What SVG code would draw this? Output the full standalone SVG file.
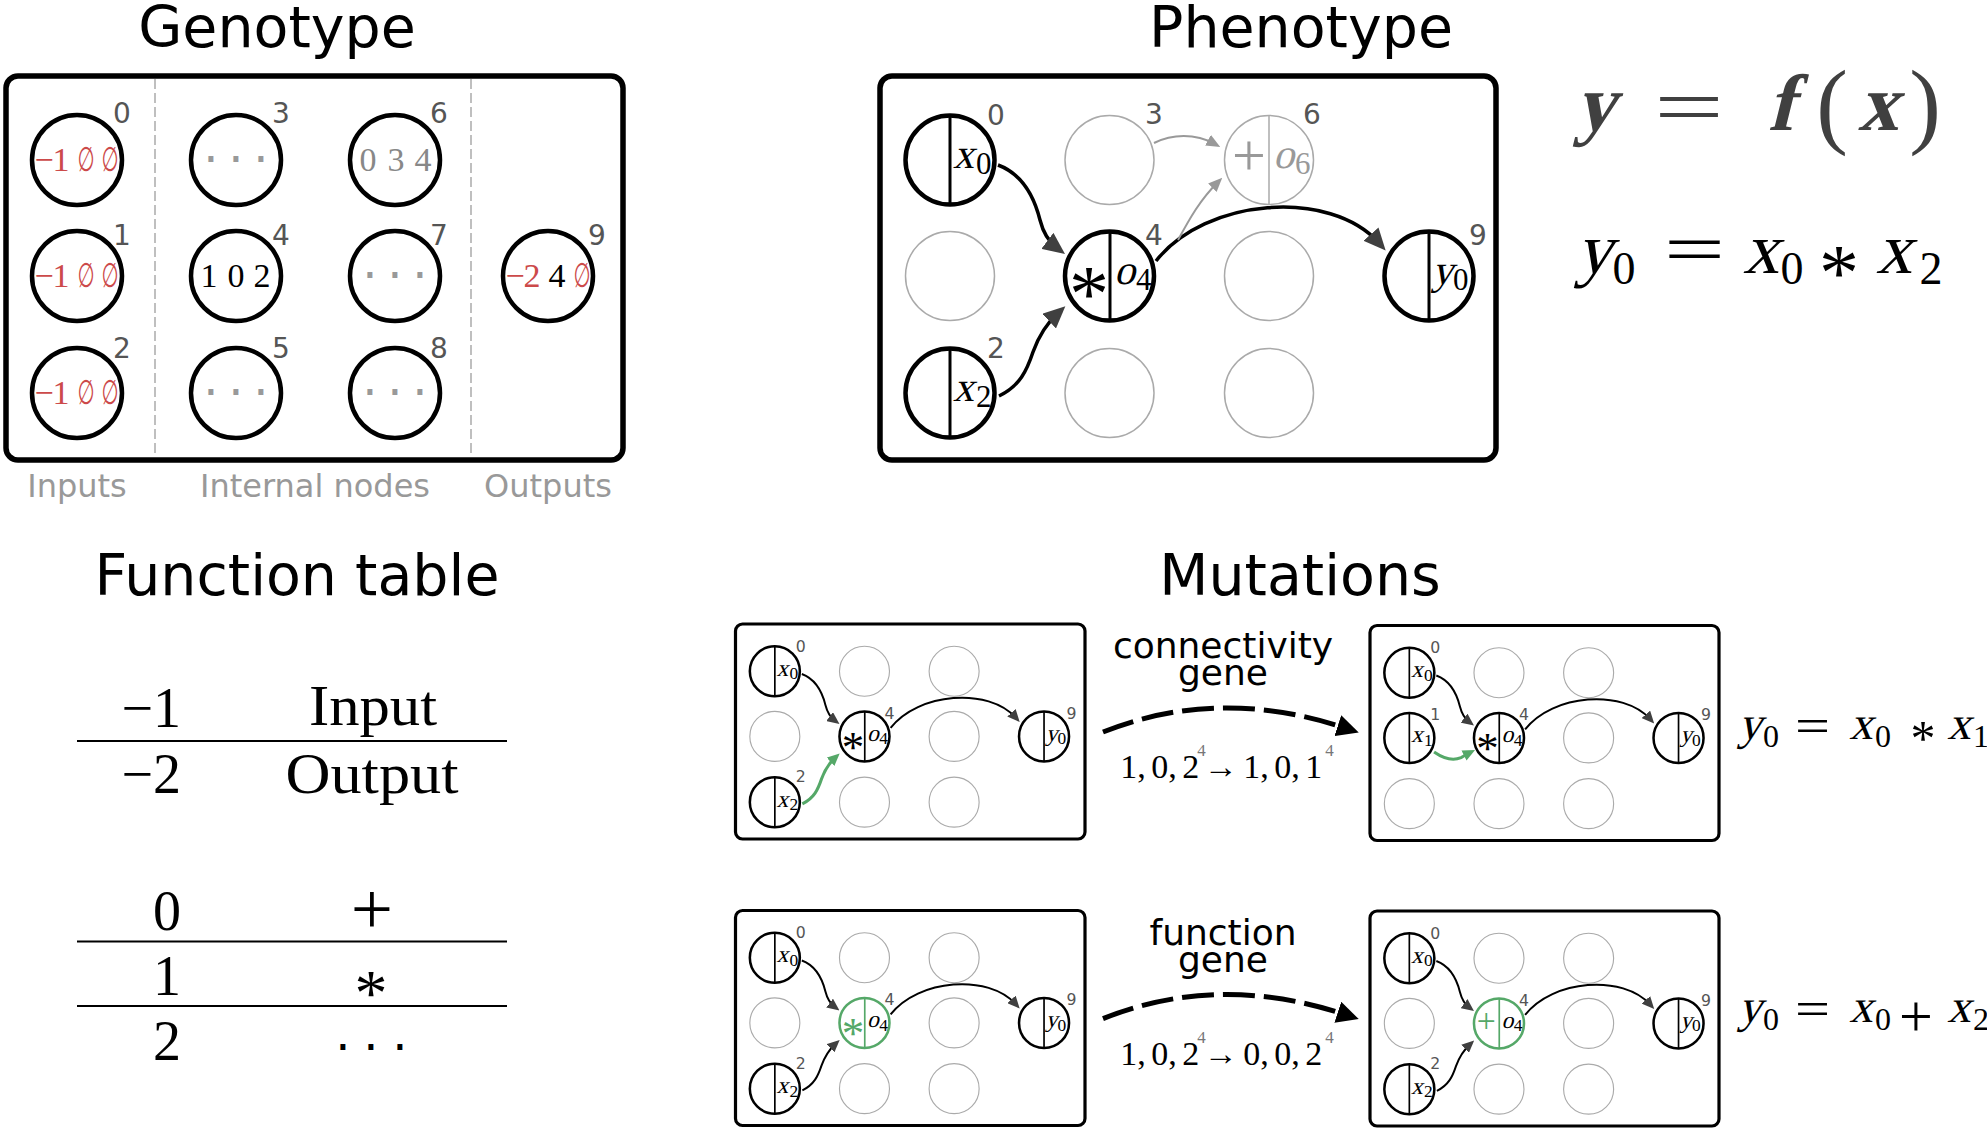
<svg xmlns="http://www.w3.org/2000/svg" width="1987" height="1129" viewBox="0 0 1987 1129">
<defs>
<style>
.t-title{font-family:"DejaVu Sans",sans-serif;font-size:57px;fill:#000;text-anchor:middle}
.t-sect{font-family:"DejaVu Sans",sans-serif;font-size:32px;fill:#999;text-anchor:middle}
.idx{font-family:"DejaVu Sans",sans-serif;font-size:28px;fill:#555;text-anchor:middle}
.mr{font-family:"Liberation Serif",serif}
.mv{font-family:"Liberation Serif",serif}
.ast{font-family:"Liberation Serif",serif;text-anchor:middle}
.es{font-family:"DejaVu Sans",sans-serif;font-size:34px;text-anchor:middle}
.dots{font-family:"DejaVu Sans",sans-serif;font-size:48px;text-anchor:middle}
.gv{font-family:"Liberation Serif",serif;font-size:34px;text-anchor:middle;word-spacing:-3px}
.mt{font-family:"DejaVu Sans",sans-serif;font-size:36px;text-anchor:middle}
.red{fill:#cc4a4a}
.box{fill:#fff;stroke:#000;stroke-width:5.5}
.sbox{fill:#fff;stroke:#000;stroke-width:3.2}
.act{fill:#fff;stroke:#000;stroke-width:4.5}
.ina{fill:none;stroke:#aaa;stroke-width:1.5}
.ina-s{fill:none;stroke:#aaa;stroke-width:2}
.div{stroke:#000;stroke-width:3}
.dash{stroke:#aaa;stroke-width:1.5;stroke-dasharray:10 4}
.e{fill:none;stroke:#000;stroke-width:3.5}
.eg{fill:none;stroke:#999;stroke-width:2}
.egr{fill:none;stroke:#55a868;stroke-width:5.5}
.tline{stroke:#000;stroke-width:1.8}
.mut{fill:none;stroke:#000;stroke-width:5;stroke-dasharray:32 9}
</style>
<marker id="ah" viewBox="0 0 22 20" refX="12" refY="10" markerWidth="22" markerHeight="20" markerUnits="userSpaceOnUse" orient="auto"><path d="M0,0 L22,10 L0,20 z" fill="#404040"/></marker>
<marker id="ahg" viewBox="0 0 14 12" refX="8" refY="6" markerWidth="14" markerHeight="12" markerUnits="userSpaceOnUse" orient="auto"><path d="M0,0 L14,6 L0,12 z" fill="#999"/></marker>
<marker id="ahgr" viewBox="0 0 22 20" refX="12" refY="10" markerWidth="22" markerHeight="20" markerUnits="userSpaceOnUse" orient="auto"><path d="M0,0 L22,10 L0,20 z" fill="#55a868"/></marker>
<marker id="ahb" viewBox="0 0 20 20" refX="4" refY="10" markerWidth="22" markerHeight="22" markerUnits="userSpaceOnUse" orient="auto"><path d="M0,0 L20,10 L0,20 z" fill="#000"/></marker>
</defs>
<rect width="1987" height="1129" fill="#fff"/>

<!-- Titles -->
<text class="t-title" x="277" y="47">Genotype</text>
<text class="t-title" x="1301" y="47">Phenotype</text>
<text class="t-title" x="297" y="595">Function table</text>
<text class="t-title" x="1300" y="595">Mutations</text>

<!-- Genotype -->
<g id="genotype">
<rect class="box" x="6" y="76" width="617" height="384" rx="12"/>
<line class="dash" x1="155" y1="79" x2="155" y2="457"/>
<line class="dash" x1="471" y1="79" x2="471" y2="457"/>
<g id="g-n0"><circle class="act" cx="77" cy="160" r="45"/><text class="mr red" font-size="34" text-anchor="middle" x="44 61" y="171">−1</text><text class="es red" x="86" y="171" textLength="17" lengthAdjust="spacingAndGlyphs">∅</text><text class="es red" x="110" y="171" textLength="17" lengthAdjust="spacingAndGlyphs">∅</text><text class="idx" x="122" y="123">0</text></g>
<g id="g-n1"><circle class="act" cx="77" cy="276" r="45"/><text class="mr red" font-size="34" text-anchor="middle" x="44 61" y="287">−1</text><text class="es red" x="86" y="287" textLength="17" lengthAdjust="spacingAndGlyphs">∅</text><text class="es red" x="110" y="287" textLength="17" lengthAdjust="spacingAndGlyphs">∅</text><text class="idx" x="122" y="245">1</text></g>
<g id="g-n2"><circle class="act" cx="77" cy="393" r="45"/><text class="mr red" font-size="34" text-anchor="middle" x="44 61" y="404">−1</text><text class="es red" x="86" y="404" textLength="17" lengthAdjust="spacingAndGlyphs">∅</text><text class="es red" x="110" y="404" textLength="17" lengthAdjust="spacingAndGlyphs">∅</text><text class="idx" x="122" y="358">2</text></g>
<g id="g-n3"><circle class="act" cx="236" cy="160" r="45"/><text class="dots" fill="#999" x="211 236 261" y="176">···</text><text class="idx" x="281" y="123">3</text></g>
<g id="g-n4"><circle class="act" cx="236" cy="276" r="45"/><text class="mr" font-size="34" text-anchor="middle" x="209 236 262" y="287">102</text><text class="idx" x="281" y="245">4</text></g>
<g id="g-n5"><circle class="act" cx="236" cy="393" r="45"/><text class="dots" fill="#999" x="211 236 261" y="409">···</text><text class="idx" x="281" y="358">5</text></g>
<g id="g-n6"><circle class="act" cx="395" cy="160" r="45"/><text class="mr" fill="#888" font-size="34" text-anchor="middle" x="368 396 423" y="171">034</text><text class="idx" x="439" y="123">6</text></g>
<g id="g-n7"><circle class="act" cx="395" cy="276" r="45"/><text class="dots" fill="#999" x="370 395 420" y="292">···</text><text class="idx" x="439" y="245">7</text></g>
<g id="g-n8"><circle class="act" cx="395" cy="393" r="45"/><text class="dots" fill="#999" x="370 395 420" y="409">···</text><text class="idx" x="439" y="358">8</text></g>
<g id="g-n9"><circle class="act" cx="548" cy="276" r="45"/><text class="mr red" font-size="34" text-anchor="middle" x="515 532" y="287">−2</text><text class="mr" font-size="34" text-anchor="middle" x="557" y="287">4</text><text class="es red" x="582" y="287" textLength="17" lengthAdjust="spacingAndGlyphs">∅</text><text class="idx" x="597" y="245">9</text></g>
<text class="t-sect" x="77" y="497">Inputs</text>
<text class="t-sect" x="315" y="497">Internal nodes</text>
<text class="t-sect" x="548" y="497">Outputs</text>
</g>

<!-- Phenotype -->
<g id="phenotype">
<rect class="box" x="880" y="76" width="616" height="384" rx="12"/>
<g id="p-n0"><circle class="act" cx="950" cy="160" r="44.5"/><line class="div" stroke="#444" x1="950" y1="115.5" x2="950" y2="204.5"/><text class="mv" transform="translate(953,168) skewX(-14)" font-size="42">x</text><text class="mr" x="976" y="174" font-size="31">0</text><text class="idx" x="996" y="125">0</text></g>
<g id="p-n1"><circle class="ina" cx="950" cy="276" r="44.5"/></g>
<g id="p-n2"><circle class="act" cx="950" cy="393" r="44.5"/><line class="div" x1="950" y1="348.5" x2="950" y2="437.5"/><text class="mv" transform="translate(953,401) skewX(-14)" font-size="42">x</text><text class="mr" x="976" y="407" font-size="31">2</text><text class="idx" x="996" y="358">2</text></g>
<g id="p-n3"><circle class="ina" cx="1109.5" cy="160" r="44.5"/><text class="idx" x="1154" y="124">3</text></g>
<g id="p-n4"><circle class="act" cx="1109.5" cy="276" r="44.5"/><line class="div" x1="1110" y1="231.5" x2="1110" y2="320.5"/><text class="ast" x="1089" y="321" font-size="80">*</text><text class="mv" transform="translate(1114,284) skewX(-14)" font-size="42">o</text><text class="mr" x="1136" y="290" font-size="31">4</text><text class="idx" x="1154" y="245">4</text></g>
<g id="p-n5"><circle class="ina" cx="1109.5" cy="393" r="44.5"/></g>
<g id="p-n6" fill="#999"><circle class="ina" cx="1269" cy="160" r="44.5"/><line x1="1269" y1="115.5" x2="1269" y2="204.5" stroke="#aaa" stroke-width="1.5"/><text class="mr" x="1249" y="175" font-size="60" text-anchor="middle">+</text><text class="mv" transform="translate(1273,168) skewX(-14)" font-size="42">o</text><text class="mr" x="1295" y="174" font-size="31">6</text><text class="idx" x="1312" y="124">6</text></g>
<g id="p-n7"><circle class="ina" cx="1269" cy="276" r="44.5"/></g>
<g id="p-n8"><circle class="ina" cx="1269" cy="393" r="44.5"/></g>
<g id="p-n9"><circle class="act" cx="1429" cy="276" r="44.5"/><line class="div" x1="1429" y1="231.5" x2="1429" y2="320.5"/><text class="mv" transform="translate(1432,284) skewX(-14)" font-size="42">y</text><text class="mr" x="1453" y="290" font-size="31">0</text><text class="idx" x="1478" y="245">9</text></g>
<g id="p-connectors">
<path class="e" d="M998,165 C1025,175 1035,200 1040,220 C1043,232 1049,242 1057,248" marker-end="url(#ah)"/>
<path class="e" stroke="#444" d="M999,396 C1020,386 1027,370 1033,352 C1038,338 1045,325 1058,313" marker-end="url(#ah)"/>
<path class="e" d="M1156,261 C1205,198 1330,188 1379,243" marker-end="url(#ah)"/>
<path class="eg" d="M1154,143 C1172,134 1195,133 1215,144" marker-end="url(#ahg)"/>
<path class="eg" d="M1178,240 C1190,218 1200,200 1218,182" marker-end="url(#ahg)"/>
</g>
</g>

<!-- Equations (phenotype) -->
<g id="eq-main" fill="#404040">
<text class="mv" font-weight="bold" font-size="80" transform="translate(1595,130) skewX(-14)" text-anchor="middle">y</text>
<text class="mr" font-size="80" x="1654" y="134" textLength="70" lengthAdjust="spacingAndGlyphs">=</text>
<text class="mv" font-weight="bold" font-size="80" transform="translate(1781,130) skewX(-14)" text-anchor="middle">f</text>
<text class="mr" font-size="95" x="1832" y="136" text-anchor="middle">(</text>
<text class="mv" font-weight="bold" font-size="80" transform="translate(1878,130) skewX(-14)" text-anchor="middle">x</text>
<text class="mr" font-size="95" x="1925" y="136" text-anchor="middle">)</text>
</g>
<g id="eq-pheno">
<text class="mv" font-size="72" transform="translate(1594,273) skewX(-14)" text-anchor="middle">y</text>
<text class="mr" font-size="46" x="1624" y="284" text-anchor="middle">0</text>
<text class="mr" font-size="70" x="1664" y="273" textLength="61" lengthAdjust="spacingAndGlyphs">=</text>
<text class="mv" font-size="72" transform="translate(1761,273) skewX(-14)" text-anchor="middle">x</text>
<text class="mr" font-size="46" x="1792" y="284" text-anchor="middle">0</text>
<text class="ast" font-size="80" x="1839" y="300">*</text>
<text class="mv" font-size="72" transform="translate(1894,273) skewX(-14)" text-anchor="middle">x</text>
<text class="mr" font-size="46" x="1931" y="284" text-anchor="middle">2</text>
</g>

<!-- Function table -->
<g id="function-table">
<text class="mr" font-size="56" x="181" y="727" text-anchor="end">−1</text>
<text class="mr" font-size="56" x="373" y="725" text-anchor="middle" textLength="128" lengthAdjust="spacingAndGlyphs">Input</text>
<line class="tline" x1="77" y1="741" x2="507" y2="741"/>
<text class="mr" font-size="56" x="181" y="793" text-anchor="end">−2</text>
<text class="mr" font-size="56" x="372" y="793" text-anchor="middle" textLength="173" lengthAdjust="spacingAndGlyphs">Output</text>
<text class="mr" font-size="56" x="181" y="930" text-anchor="end">0</text>
<text class="mr" font-size="75" x="372" y="934" text-anchor="middle">+</text>
<line class="tline" x1="77" y1="941.5" x2="507" y2="941.5"/>
<text class="mr" font-size="56" x="181" y="995" text-anchor="end">1</text>
<text class="ast" font-size="66" x="371" y="1015">*</text>
<line class="tline" x1="77" y1="1006" x2="507" y2="1006"/>
<text class="mr" font-size="56" x="181" y="1060" text-anchor="end">2</text>
<text class="dots" font-size="66" fill="#000" x="343 371 400" y="1064">···</text>
</g>

<!-- Mutation boxes -->
<rect id="boxA" class="sbox" x="735.5" y="624" width="349.5" height="215" rx="7"/>
<rect id="boxB" class="sbox" x="1370" y="625.5" width="349" height="215" rx="7"/>
<rect id="boxC" class="sbox" x="735.5" y="910.5" width="349.5" height="215" rx="7"/>
<rect id="boxD" class="sbox" x="1370" y="911" width="349" height="215" rx="7"/>

<g id="mutA" transform="translate(735.5,624) scale(0.562) translate(-880,-76)">
<g id="a-n0"><circle class="act" cx="950" cy="160" r="44.5"/><line class="div" x1="950" y1="115.5" x2="950" y2="204.5"/><text class="mv" transform="translate(953,168) skewX(-14)" font-size="42">x</text><text class="mr" x="976" y="174" font-size="31">0</text><text class="idx" x="996" y="125">0</text></g>
<g id="a-n1"><circle class="ina-s" cx="950" cy="276" r="44.5"/></g>
<g id="a-n2"><circle class="act" cx="950" cy="393" r="44.5"/><line class="div" x1="950" y1="348.5" x2="950" y2="437.5"/><text class="mv" transform="translate(953,401) skewX(-14)" font-size="42">x</text><text class="mr" x="976" y="407" font-size="31">2</text><text class="idx" x="996" y="358">2</text></g>
<g id="a-n3"><circle class="ina-s" cx="1109.5" cy="160" r="44.5"/></g>
<g id="a-n4"><circle class="act" cx="1109.5" cy="276" r="44.5"/><line class="div" x1="1110" y1="231.5" x2="1110" y2="320.5"/><text class="ast" x="1089" y="321" font-size="80">*</text><text class="mv" transform="translate(1114,284) skewX(-14)" font-size="42">o</text><text class="mr" x="1136" y="290" font-size="31">4</text><text class="idx" x="1154" y="245">4</text></g>
<g id="a-n5"><circle class="ina-s" cx="1109.5" cy="393" r="44.5"/></g>
<g id="a-n6"><circle class="ina-s" cx="1269" cy="160" r="44.5"/></g>
<g id="a-n7"><circle class="ina-s" cx="1269" cy="276" r="44.5"/></g>
<g id="a-n8"><circle class="ina-s" cx="1269" cy="393" r="44.5"/></g>
<g id="a-n9"><circle class="act" cx="1429" cy="276" r="44.5"/><line class="div" x1="1429" y1="231.5" x2="1429" y2="320.5"/><text class="mv" transform="translate(1432,284) skewX(-14)" font-size="42">y</text><text class="mr" x="1453" y="290" font-size="31">0</text><text class="idx" x="1478" y="245">9</text></g>
<g id="a-connectors">
<path class="e" d="M998,165 C1025,175 1035,200 1040,220 C1043,232 1049,242 1057,248" marker-end="url(#ah)"/>
<path class="egr" d="M999,396 C1020,386 1027,370 1033,352 C1038,338 1045,325 1058,313" marker-end="url(#ahgr)"/>
<path class="e" d="M1156,261 C1205,198 1330,188 1379,243" marker-end="url(#ah)"/>
</g>
</g>

<g id="mutB" transform="translate(1370,625.5) scale(0.562) translate(-880,-76)">
<g id="b-n0"><circle class="act" cx="950" cy="160" r="44.5"/><line class="div" x1="950" y1="115.5" x2="950" y2="204.5"/><text class="mv" transform="translate(953,168) skewX(-14)" font-size="42">x</text><text class="mr" x="976" y="174" font-size="31">0</text><text class="idx" x="996" y="125">0</text></g>
<g id="b-n1"><circle class="act" cx="950" cy="276" r="44.5"/><line class="div" x1="950" y1="231.5" x2="950" y2="320.5"/><text class="mv" transform="translate(953,284) skewX(-14)" font-size="42">x</text><text class="mr" x="976" y="290" font-size="31">1</text><text class="idx" x="996" y="245">1</text></g>
<g id="b-n2"><circle class="ina-s" cx="950" cy="393" r="44.5"/></g>
<g id="b-n3"><circle class="ina-s" cx="1109.5" cy="160" r="44.5"/></g>
<g id="b-n4"><circle class="act" cx="1109.5" cy="276" r="44.5"/><line class="div" x1="1110" y1="231.5" x2="1110" y2="320.5"/><text class="ast" x="1089" y="321" font-size="80">*</text><text class="mv" transform="translate(1114,284) skewX(-14)" font-size="42">o</text><text class="mr" x="1136" y="290" font-size="31">4</text><text class="idx" x="1154" y="245">4</text></g>
<g id="b-n5"><circle class="ina-s" cx="1109.5" cy="393" r="44.5"/></g>
<g id="b-n6"><circle class="ina-s" cx="1269" cy="160" r="44.5"/></g>
<g id="b-n7"><circle class="ina-s" cx="1269" cy="276" r="44.5"/></g>
<g id="b-n8"><circle class="ina-s" cx="1269" cy="393" r="44.5"/></g>
<g id="b-n9"><circle class="act" cx="1429" cy="276" r="44.5"/><line class="div" x1="1429" y1="231.5" x2="1429" y2="320.5"/><text class="mv" transform="translate(1432,284) skewX(-14)" font-size="42">y</text><text class="mr" x="1453" y="290" font-size="31">0</text><text class="idx" x="1478" y="245">9</text></g>
<g id="b-connectors">
<path class="e" d="M998,165 C1025,175 1035,200 1040,220 C1043,232 1049,242 1057,248" marker-end="url(#ah)"/>
<path class="egr" d="M994,301 C1010,312 1026,318 1042,311 C1048,308 1052,305 1058,302" marker-end="url(#ahgr)"/>
<path class="e" d="M1156,261 C1205,198 1330,188 1379,243" marker-end="url(#ah)"/>
</g>
</g>

<g id="mutC" transform="translate(735.5,910.5) scale(0.562) translate(-880,-76)">
<g id="c-n0"><circle class="act" cx="950" cy="160" r="44.5"/><line class="div" x1="950" y1="115.5" x2="950" y2="204.5"/><text class="mv" transform="translate(953,168) skewX(-14)" font-size="42">x</text><text class="mr" x="976" y="174" font-size="31">0</text><text class="idx" x="996" y="125">0</text></g>
<g id="c-n1"><circle class="ina-s" cx="950" cy="276" r="44.5"/></g>
<g id="c-n2"><circle class="act" cx="950" cy="393" r="44.5"/><line class="div" x1="950" y1="348.5" x2="950" y2="437.5"/><text class="mv" transform="translate(953,401) skewX(-14)" font-size="42">x</text><text class="mr" x="976" y="407" font-size="31">2</text><text class="idx" x="996" y="358">2</text></g>
<g id="c-n3"><circle class="ina-s" cx="1109.5" cy="160" r="44.5"/></g>
<g id="c-n4"><circle class="act" style="stroke:#55a868" cx="1109.5" cy="276" r="44.5"/><line class="div" style="stroke:#55a868" x1="1110" y1="231.5" x2="1110" y2="320.5"/><text class="ast" fill="#55a868" x="1089" y="321" font-size="80">*</text><text class="mv" transform="translate(1114,284) skewX(-14)" font-size="42">o</text><text class="mr" x="1136" y="290" font-size="31">4</text><text class="idx" x="1154" y="245">4</text></g>
<g id="c-n5"><circle class="ina-s" cx="1109.5" cy="393" r="44.5"/></g>
<g id="c-n6"><circle class="ina-s" cx="1269" cy="160" r="44.5"/></g>
<g id="c-n7"><circle class="ina-s" cx="1269" cy="276" r="44.5"/></g>
<g id="c-n8"><circle class="ina-s" cx="1269" cy="393" r="44.5"/></g>
<g id="c-n9"><circle class="act" cx="1429" cy="276" r="44.5"/><line class="div" x1="1429" y1="231.5" x2="1429" y2="320.5"/><text class="mv" transform="translate(1432,284) skewX(-14)" font-size="42">y</text><text class="mr" x="1453" y="290" font-size="31">0</text><text class="idx" x="1478" y="245">9</text></g>
<g id="c-connectors">
<path class="e" d="M998,165 C1025,175 1035,200 1040,220 C1043,232 1049,242 1057,248" marker-end="url(#ah)"/>
<path class="e" d="M999,396 C1020,386 1027,370 1033,352 C1038,338 1045,325 1058,313" marker-end="url(#ah)"/>
<path class="e" d="M1156,261 C1205,198 1330,188 1379,243" marker-end="url(#ah)"/>
</g>
</g>

<g id="mutD" transform="translate(1370,911) scale(0.562) translate(-880,-76)">
<g id="d-n0"><circle class="act" cx="950" cy="160" r="44.5"/><line class="div" x1="950" y1="115.5" x2="950" y2="204.5"/><text class="mv" transform="translate(953,168) skewX(-14)" font-size="42">x</text><text class="mr" x="976" y="174" font-size="31">0</text><text class="idx" x="996" y="125">0</text></g>
<g id="d-n1"><circle class="ina-s" cx="950" cy="276" r="44.5"/></g>
<g id="d-n2"><circle class="act" cx="950" cy="393" r="44.5"/><line class="div" x1="950" y1="348.5" x2="950" y2="437.5"/><text class="mv" transform="translate(953,401) skewX(-14)" font-size="42">x</text><text class="mr" x="976" y="407" font-size="31">2</text><text class="idx" x="996" y="358">2</text></g>
<g id="d-n3"><circle class="ina-s" cx="1109.5" cy="160" r="44.5"/></g>
<g id="d-n4"><circle class="act" style="stroke:#55a868" cx="1109.5" cy="276" r="44.5"/><line class="div" style="stroke:#55a868" x1="1110" y1="231.5" x2="1110" y2="320.5"/><text class="mr" fill="#55a868" x="1087" y="292" font-size="60" text-anchor="middle">+</text><text class="mv" transform="translate(1114,284) skewX(-14)" font-size="42">o</text><text class="mr" x="1136" y="290" font-size="31">4</text><text class="idx" x="1154" y="245">4</text></g>
<g id="d-n5"><circle class="ina-s" cx="1109.5" cy="393" r="44.5"/></g>
<g id="d-n6"><circle class="ina-s" cx="1269" cy="160" r="44.5"/></g>
<g id="d-n7"><circle class="ina-s" cx="1269" cy="276" r="44.5"/></g>
<g id="d-n8"><circle class="ina-s" cx="1269" cy="393" r="44.5"/></g>
<g id="d-n9"><circle class="act" cx="1429" cy="276" r="44.5"/><line class="div" x1="1429" y1="231.5" x2="1429" y2="320.5"/><text class="mv" transform="translate(1432,284) skewX(-14)" font-size="42">y</text><text class="mr" x="1453" y="290" font-size="31">0</text><text class="idx" x="1478" y="245">9</text></g>
<g id="d-connectors">
<path class="e" d="M998,165 C1025,175 1035,200 1040,220 C1043,232 1049,242 1057,248" marker-end="url(#ah)"/>
<path class="e" d="M999,396 C1020,386 1027,370 1033,352 C1038,338 1045,325 1058,313" marker-end="url(#ah)"/>
<path class="e" d="M1156,261 C1205,198 1330,188 1379,243" marker-end="url(#ah)"/>
</g>
</g>

<!-- Mutation arrows and labels -->
<g id="mutation-connectors">
<path class="mut" d="M1103,732 Q1217.5,686.5 1342,727" marker-end="url(#ahb)"/>
<path class="mut" d="M1103,1018.6 Q1217.5,973 1342,1013.6" marker-end="url(#ahb)"/>
</g>
<text class="mt" x="1223" y="658">connectivity</text>
<text class="mt" x="1223" y="685">gene</text>
<text class="gv" x="1227" y="778">1, 0, 2<tspan font-size="17" fill="#777" dx="-2" dy="-22">4</tspan><tspan dx="-2" dy="22">→ 1, 0, 1</tspan><tspan font-size="17" fill="#777" dx="3" dy="-22">4</tspan></text>
<text class="mt" x="1223" y="945">function</text>
<text class="mt" x="1223" y="972">gene</text>
<text class="gv" x="1227" y="1064.6">1, 0, 2<tspan font-size="17" fill="#777" dx="-2" dy="-22">4</tspan><tspan dx="-2" dy="22">→ 0, 0, 2</tspan><tspan font-size="17" fill="#777" dx="3" dy="-22">4</tspan></text>

<!-- Mutation result equations -->
<g id="eq-conn">
<text class="mv" font-size="47" transform="translate(1750,739) skewX(-14)" text-anchor="middle">y</text>
<text class="mr" font-size="32" x="1771" y="747" text-anchor="middle">0</text>
<text class="mr" font-size="48" x="1795" y="742" textLength="35" lengthAdjust="spacingAndGlyphs">=</text>
<text class="mv" font-size="47" transform="translate(1861,739) skewX(-14)" text-anchor="middle">x</text>
<text class="mr" font-size="32" x="1883" y="747" text-anchor="middle">0</text>
<text class="ast" font-size="50" x="1923" y="755">*</text>
<text class="mv" font-size="47" transform="translate(1959,739) skewX(-14)" text-anchor="middle">x</text>
<text class="mr" font-size="32" x="1981" y="747" text-anchor="middle">1</text>
</g>
<g id="eq-func">
<text class="mv" font-size="47" transform="translate(1750,1022) skewX(-14)" text-anchor="middle">y</text>
<text class="mr" font-size="32" x="1771" y="1030" text-anchor="middle">0</text>
<text class="mr" font-size="48" x="1795" y="1025" textLength="35" lengthAdjust="spacingAndGlyphs">=</text>
<text class="mv" font-size="47" transform="translate(1861,1022) skewX(-14)" text-anchor="middle">x</text>
<text class="mr" font-size="32" x="1883" y="1030" text-anchor="middle">0</text>
<text class="mr" font-size="60" x="1916" y="1036" text-anchor="middle">+</text>
<text class="mv" font-size="47" transform="translate(1959,1022) skewX(-14)" text-anchor="middle">x</text>
<text class="mr" font-size="32" x="1981" y="1030" text-anchor="middle">2</text>
</g>
</svg>
